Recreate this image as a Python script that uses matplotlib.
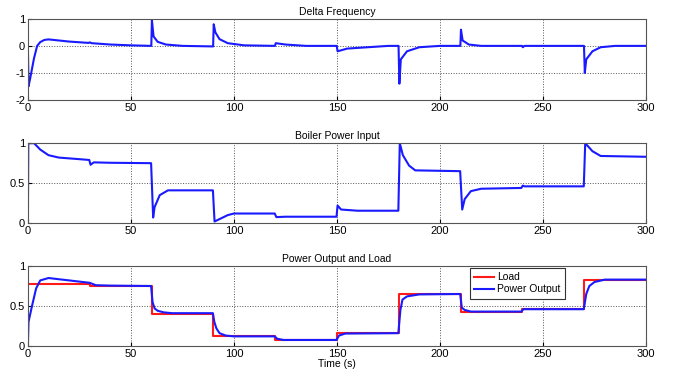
import numpy as np
import matplotlib.pyplot as plt

plt.rcParams['font.family'] = ['Liberation Sans', 'DejaVu Sans']
plt.rcParams['axes.unicode_minus'] = False

# ── Data ──────────────────────────────────────────────────────
freq_t = [0, 0.3, 1, 2, 3, 4.5, 6, 8, 10, 15, 20, 29.5, 30, 31, 40, 50, 59.9,
          60.2, 61, 63, 67, 75, 89.9, 90.2, 91, 93, 97, 105, 119.9, 120.3, 125, 135,
          149.9, 150.3, 155, 165, 175, 179.9, 180.3, 181, 184, 190, 200, 209.9,
          210.2, 211, 214, 220, 239.8, 240.2, 241, 269.9, 270.3, 271, 274, 278, 285, 300]
freq_v = [0, -1.5, -1.25, -0.85, -0.45, 0.0, 0.14, 0.22, 0.24, 0.2, 0.16, 0.11, 0.13, 0.1,
          0.05, 0.02, 0.0, 0.95, 0.35, 0.15, 0.05, 0.0, -0.02, 0.8, 0.5, 0.25, 0.1, 0.02,
          0.0, 0.1, 0.05, 0.0, 0.0, -0.2, -0.1, -0.05, 0.0, 0.0, -1.4, -0.5, -0.2, -0.05,
          0.0, 0.0, 0.6, 0.2, 0.05, 0.0, 0.0, -0.05, 0.0, 0.0, -1.0, -0.5, -0.2, -0.05, 0.0, 0.0]

boiler_t = [0, 0.2, 3, 6, 10, 15, 25, 29.8, 30.4, 32, 40, 59.8, 60.8, 61.5, 64, 68, 89.8,
            90.6, 93, 97, 100, 119.8, 120.6, 125, 149.8, 150.3, 152, 160, 179.8, 180.5,
            182, 185, 188, 209.8, 210.8, 212, 215, 220, 239.5, 240.2, 241, 269.8, 270.5,
            274, 278, 300]
boiler_v = [0, 1.0, 1.0, 0.92, 0.85, 0.82, 0.80, 0.79, 0.73, 0.76, 0.755, 0.75, 0.07, 0.2,
            0.35, 0.41, 0.41, 0.02, 0.05, 0.10, 0.12, 0.12, 0.075, 0.08, 0.08, 0.22, 0.17,
            0.155, 0.155, 1.0, 0.85, 0.72, 0.66, 0.65, 0.17, 0.30, 0.40, 0.43, 0.44, 0.47,
            0.46, 0.46, 1.0, 0.9, 0.84, 0.83]

load_t = [0, 30, 60, 90, 120, 150, 180, 210, 240, 270, 300]
load_v = [0.77, 0.75, 0.40, 0.12, 0.07, 0.16, 0.65, 0.42, 0.46, 0.83, 0.83]

power_t = [0, 0.3, 2, 4, 6, 10, 20, 30, 33, 40, 59.8, 60.5, 61.5, 63, 66, 70, 89.8,
           90.5, 91.5, 93, 96, 100, 119.8, 121, 124, 149.8, 151, 154, 179.8, 180.8,
           181.8, 184, 190, 209.8, 210.6, 212, 215, 239.5, 240.5, 269.8, 271, 272.5,
           275, 280, 300]
power_v = [0, 0.3, 0.5, 0.72, 0.82, 0.85, 0.82, 0.79, 0.76, 0.755, 0.75, 0.55, 0.47,
           0.44, 0.42, 0.41, 0.41, 0.3, 0.22, 0.16, 0.13, 0.12, 0.12, 0.09, 0.075, 0.075,
           0.13, 0.155, 0.16, 0.45, 0.58, 0.62, 0.645, 0.65, 0.48, 0.45, 0.43, 0.43, 0.46,
           0.46, 0.65, 0.75, 0.80, 0.83, 0.83]

x_ticks = [0, 50, 100, 150, 200, 250, 300]

# ── Figure ────────────────────────────────────────────────────
fig = plt.figure(figsize=(6.8, 3.7), dpi=100)
left, width = 0.041, 0.909
ax1 = fig.add_axes([left, 0.730, width, 0.219])
ax2 = fig.add_axes([left, 0.397, width, 0.216])
ax3 = fig.add_axes([left, 0.065, width, 0.216])

ax1.plot(freq_t, freq_v, color='#1a1aff', lw=1.5)
ax1.set_ylim(-2, 1)
ax1.set_yticks([-2, -1, 0, 1])
ax1.set_title('Delta Frequency', fontsize=7.5, pad=3)

ax2.plot(boiler_t, boiler_v, color='#1a1aff', lw=1.5)
ax2.set_ylim(0, 1)
ax2.set_yticks([0, 0.5, 1])
ax2.set_yticklabels(['0', '0.5', '1'])
ax2.set_title('Boiler Power Input', fontsize=7.5, pad=3)

ax3.step(load_t, load_v, where='post', color='#ff1a1a', lw=1.5, label='Load')
ax3.plot(power_t, power_v, color='#1a1aff', lw=1.5, label='Power Output')
ax3.set_ylim(0, 1)
ax3.set_yticks([0, 0.5, 1])
ax3.set_yticklabels(['0', '0.5', '1'])
ax3.set_title('Power Output and Load', fontsize=7.5, pad=3)
ax3.set_xlabel('Time (s)', fontsize=7.5, labelpad=0)
leg = ax3.legend(loc='upper right', bbox_to_anchor=(0.872, 1.0), borderaxespad=0.2,
                 fontsize=7.5, fancybox=False, framealpha=1, edgecolor='#333333',
                 borderpad=0.4, handlelength=1.9, handletextpad=0.3, labelspacing=0.2)
leg.get_frame().set_linewidth(0.8)

for ax in (ax1, ax2, ax3):
    ax.set_xlim(0, 300)
    ax.set_xticks(x_ticks)
    ax.grid(True, color='#555555', linestyle=':', linewidth=0.7)
    ax.tick_params(direction='in', labelsize=8, length=3, pad=2)
    for s in ax.spines.values():
        s.set_color('#555555')
        s.set_linewidth(0.8)

fig.savefig('out.png', dpi=100)
